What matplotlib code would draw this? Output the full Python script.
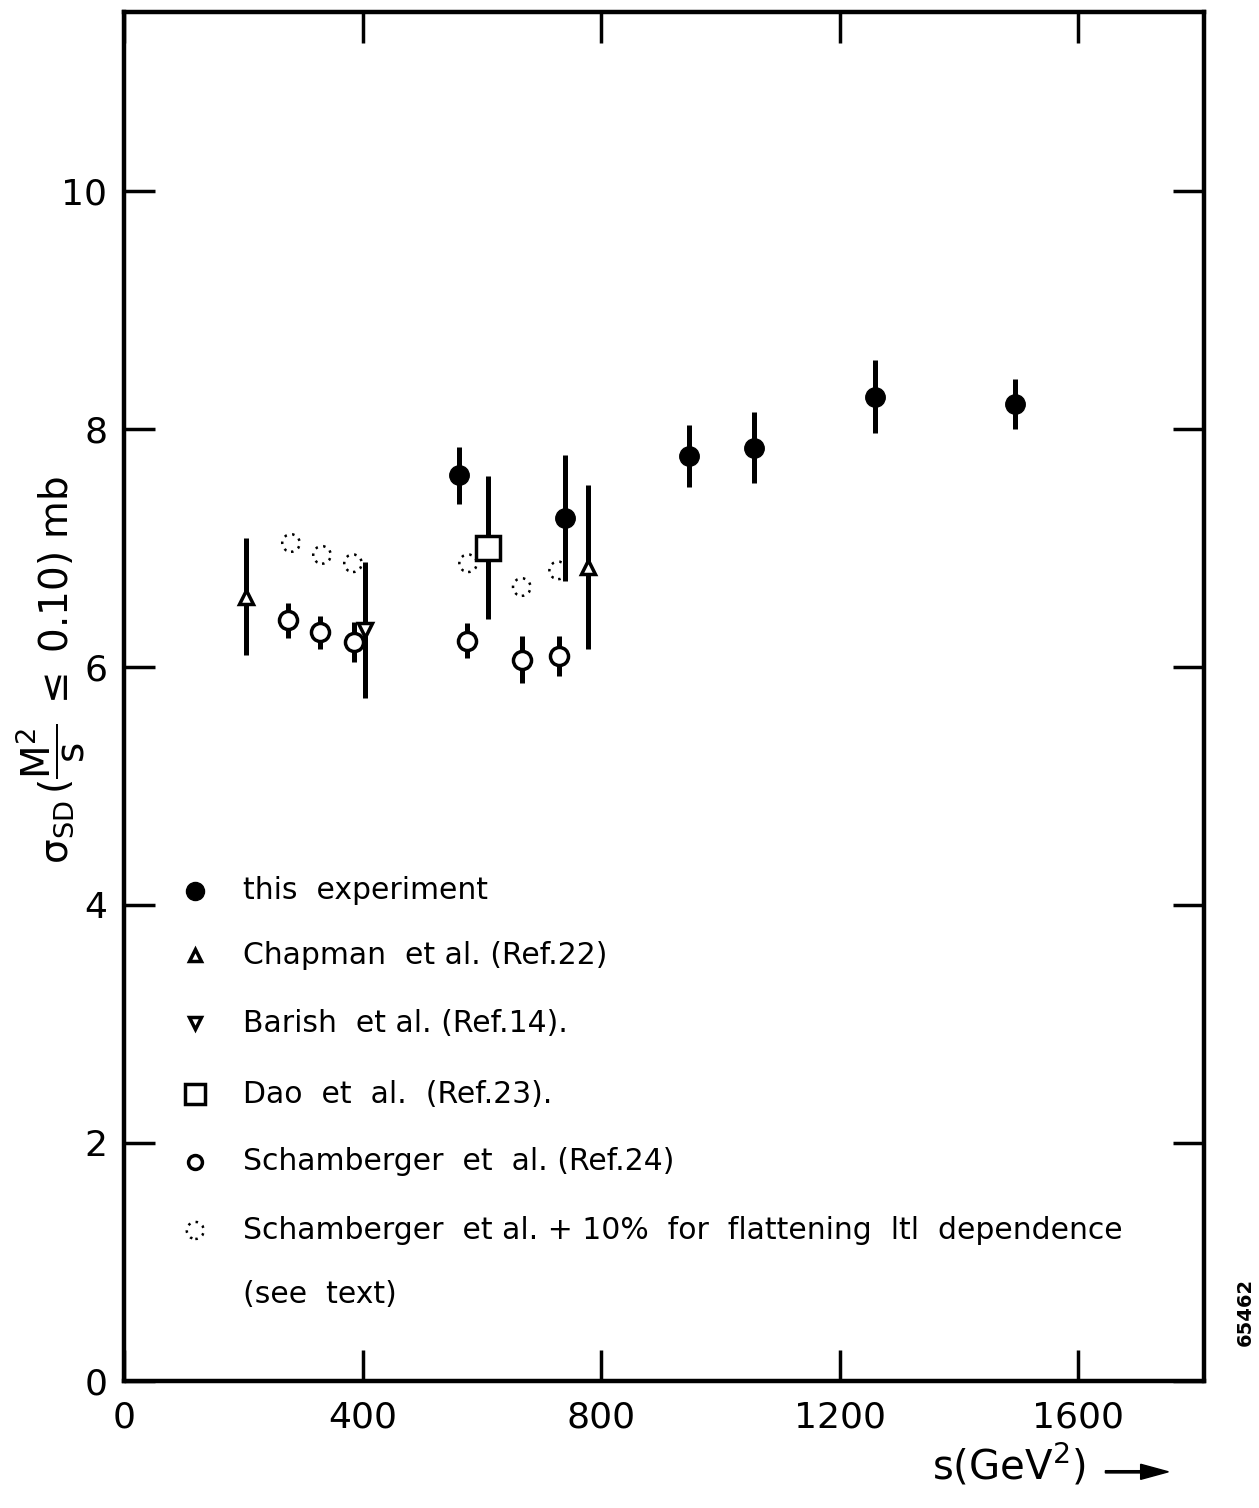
import matplotlib
matplotlib.use("Agg")
import matplotlib.pyplot as plt
from matplotlib.patches import FancyArrow

# --- data ---
# this experiment
s_exp = [562, 740, 948, 1057, 1259, 1494]
v_exp = [7.61, 7.25, 7.77, 7.84, 8.27, 8.21]
e_exp = [0.24, 0.53, 0.26, 0.30, 0.31, 0.21]

# Chapman et al. (Ref.22)
s_chap = [205, 778]
v_chap = [6.59, 6.84]
e_chap = [0.49, 0.69]

# Barish et al. (Ref.14)
s_bar = [404]
v_bar = [6.31]
e_bar = [0.57]

# Dao et al. (Ref.23)
s_dao = [610]
v_dao = [7.0]
e_dao = [0.60]

# Schamberger et al. (Ref.24)
s_sch = [275, 329, 386, 575, 667, 730]
v_sch = [6.39, 6.29, 6.21, 6.22, 6.06, 6.09]
e_sch = [0.15, 0.14, 0.17, 0.15, 0.20, 0.17]

# Schamberger et al. + 10% (dotted circles)
s_sch10 = [280, 332, 384, 577, 667, 728]
v_sch10 = [7.04, 6.94, 6.87, 6.87, 6.67, 6.81]

x_ticks = [0, 400, 800, 1200, 1600]
y_ticks = [0, 2, 4, 6, 8, 10]

legend_labels = [
    "this  experiment",
    "Chapman  et al. (Ref.22)",
    "Barish  et al. (Ref.14).",
    "Dao  et  al.  (Ref.23).",
    "Schamberger  et  al. (Ref.24)",
    "Schamberger  et al. + 10%  for  flattening  ltl  dependence",
    "(see  text)",
]

plt.rcParams['font.family'] = ['DejaVu Sans']
plt.rcParams['mathtext.fontset'] = 'dejavusans'

fig = plt.figure(figsize=(12.59, 15.08), dpi=100)
ax = fig.add_axes([0.0985, 0.0842, 0.8578, 0.9078])
ax.set_xlim(0, 1811)
ax.set_ylim(0, 11.5)

for sp in ax.spines.values():
    sp.set_linewidth(3.2)

ax.set_xticks(x_ticks)
ax.set_yticks(y_ticks)
ax.tick_params(direction='in', length=22, width=2.5, labelsize=26,
               top=True, right=True)
ax.tick_params(axis='y', pad=12)
ax.tick_params(axis='x', pad=14)

eb_kw = dict(ls='none', ecolor='black', elinewidth=3.6, capsize=0, zorder=2)

ax.errorbar(s_exp, v_exp, yerr=e_exp, marker='o', ms=14, mfc='black',
            mec='black', **eb_kw)
ax.errorbar(s_chap, v_chap, yerr=e_chap, marker='^', ms=10, mfc='white',
            mec='black', mew=2.5, **eb_kw)
ax.errorbar(s_bar, v_bar, yerr=e_bar, marker='v', ms=10, mfc='white',
            mec='black', mew=2.5, **eb_kw)
ax.errorbar(s_dao, v_dao, yerr=e_dao, marker='s', ms=17, mfc='white',
            mec='black', mew=2.5, **eb_kw)
ax.errorbar(s_sch, v_sch, yerr=e_sch, marker='o', ms=13, mfc='white',
            mec='black', mew=2.5, **eb_kw)
# dotted circles (+10%)
ax.scatter(s_sch10, v_sch10, s=160, facecolors='none', edgecolors='black',
           linewidths=1.8, linestyles=(0, (1, 2.2)), zorder=3)

# --- legend drawn by hand, like the original ---
leg_y = [0.358, 0.311, 0.2615, 0.2096, 0.160, 0.110, 0.063]
mx, tx = 0.066, 0.110
tr = ax.transAxes
ax.plot([mx], [leg_y[0]], 'o', ms=13, color='black', transform=tr)
ax.plot([mx], [leg_y[1]], '^', ms=8, mfc='white', mec='black', mew=2.5, transform=tr)
ax.plot([mx], [leg_y[2]], 'v', ms=8, mfc='white', mec='black', mew=2.5, transform=tr)
ax.plot([mx], [leg_y[3]], 's', ms=15, mfc='white', mec='black', mew=2.5, transform=tr)
ax.plot([mx], [leg_y[4]], 'o', ms=10, mfc='white', mec='black', mew=2.5, transform=tr)
ax.scatter([mx], [leg_y[5]], s=150, facecolors='none', edgecolors='black',
           linewidths=1.8, linestyles=(0, (1, 2.2)), transform=tr)
for y, lab in zip(leg_y, legend_labels):
    ax.text(tx, y, lab, transform=tr, fontsize=21.5, va='center', ha='left')

# y label
fig.text(0.040, 0.556,
         r'σ$_{\mathrm{SD}}\,(\dfrac{\mathrm{M}^2}{\mathrm{s}}\;\leq\;$0.10) mb',
         rotation=90, fontsize=28, ha='center', va='center')

# x label with arrow
fig.text(0.740, 0.013, r's(GeV$^2$)', fontsize=29, ha='left', va='bottom')
fig.patches.append(FancyArrow(
    0.878, 0.024, 0.050, 0, width=0.0015, head_width=0.010, head_length=0.022,
    length_includes_head=True, color='black', transform=fig.transFigure,
    figure=fig))

fig.text(0.989, 0.130, '65462', rotation=90, fontsize=14, fontweight='bold',
         ha='center', va='center')

fig.savefig('out.png', dpi=100)
